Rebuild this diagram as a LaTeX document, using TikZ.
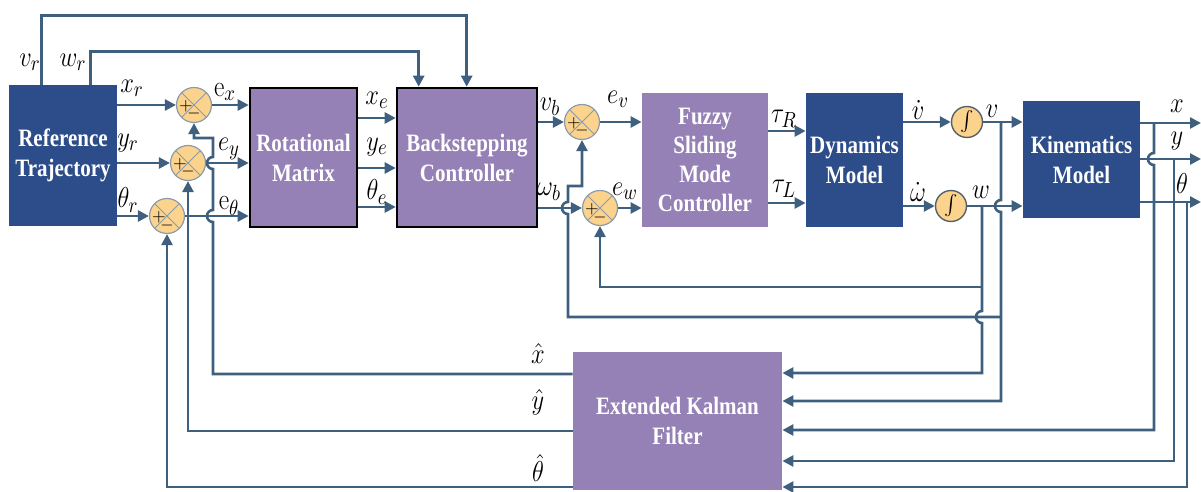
\documentclass[tikz,border=0pt]{standalone}
\usepackage{fontspec}
\newfontfamily\boxfont[FakeStretch=0.84]{Liberation Serif}
\usetikzlibrary{arrows.meta,calc}
\definecolor{wirec}{HTML}{3E5F7D}
\definecolor{dblue}{HTML}{2C4D89}
\definecolor{purp}{HTML}{9581B6}
\definecolor{sumf}{HTML}{FBD38D}
\definecolor{sumb}{HTML}{8C9BAA}
\definecolor{intb}{HTML}{56606A}
\newcommand\lb[1]{\scalebox{0.85}[1]{$#1$}}
\newcommand\sumnode[3]{%
  \node[sumj] (#1) at (#2,#3) {};
  \node[sgn] (#1p) at ($(#1.center)+(-8,1)$) {+};
  \node[sgn] (#1m) at ($(#1.center)+(0,9)$) {$-$};
}
\tikzset{
  wire/.style={draw=wirec, line width=1.3pt},
  arr/.style={wire, -{Triangle[length=5.5pt,width=5.5pt]}},
  box/.style={inner sep=2pt, align=center, text=white, font=\boxfont\bfseries\fontsize{12.5}{15}\selectfont},
  dbox/.style={box, fill=dblue},
  pbox/.style={box, fill=purp, draw=black, line width=1.3pt},
  fbox/.style={box, fill=purp},
  sumj/.style={circle, draw=sumb, fill=sumf, minimum size=17.5pt, inner sep=0pt, line width=0.6pt,
    path picture={\draw[sumb, line width=0.5pt] (path picture bounding box.north west) -- (path picture bounding box.south east)
      (path picture bounding box.north east) -- (path picture bounding box.south west);}},
  sgn/.style={inner sep=0pt, font=\fontsize{8.5}{8.5}\selectfont},
  integ/.style={circle, draw=intb, fill=sumf, minimum size=15.5pt, inner sep=0pt, line width=0.7pt, font=\fontsize{9}{9}\selectfont},
  lbl/.style={inner sep=0pt, font=\fontsize{15}{17}\selectfont},
}
\begin{document}
\begin{tikzpicture}[x=0.5pt,y=-0.5pt]
\useasboundingbox (0,0) rectangle (1201,492);
% blocks
\node[dbox, minimum width=54pt, minimum height=70.5pt] (rt) at (63,155.5) {Reference\\Trajectory};
\node[pbox, minimum width=53.5pt, minimum height=69.5pt] (rm) at (303.5,157.5) {Rotational\\Matrix};
\node[pbox, minimum width=70pt, minimum height=69.5pt] (bc) at (467,157.5) {Backstepping\\Controller};
\node[fbox, minimum width=63pt, minimum height=67pt, font=\boxfont\bfseries\fontsize{12.5}{14.5}\selectfont] (fs) at (705,160) {Fuzzy\\Sliding\\Mode\\Controller};
\node[dbox, minimum width=48.5pt, minimum height=67pt] (dm) at (854.5,160) {Dynamics\\Model};
\node[dbox, minimum width=58.5pt, minimum height=58.5pt] (km) at (1081.5,159.5) {Kinematics\\Model};
\node[fbox, minimum width=104.5pt, minimum height=69pt] (ekf) at (677.5,421) {Extended Kalman\\Filter};
% junctions
\sumnode{sx}{194}{105}
\sumnode{sy}{188}{163}
\sumnode{sth}{167}{216}
\sumnode{sv}{582}{122}
\sumnode{sw}{600}{208}
\node[integ] (i1) at (967,122) {$\int$};
\node[integ] (i2) at (951,206) {$\int$};
% level coordinates
\coordinate (Lxe) at (0,118); \coordinate (Lye) at (0,168); \coordinate (Lthe) at (0,207);
\coordinate (LtR) at (0,131); \coordinate (LtL) at (0,203);
\coordinate (Lx) at (0,123); \coordinate (Ly) at (0,159); \coordinate (Lth) at (0,202);
\coordinate (Lfb1) at (0,287); \coordinate (Lfb2) at (0,317); \coordinate (Ltop) at (0,186);
\coordinate (Le1) at (0,373); \coordinate (Le2) at (0,401); \coordinate (Le3) at (0,430);
\coordinate (Le4) at (0,461); \coordinate (Le5) at (0,487);
\coordinate (Lh1) at (0,374); \coordinate (Lh2) at (0,431); \coordinate (Lh3) at (0,487);
\coordinate (Lup) at (0,138);
\coordinate (Vv) at (1001,0); \coordinate (Vw) at (982,0); \coordinate (Vb) at (568,0);
\coordinate (Cx) at (1154,0); \coordinate (Cy) at (1174,0); \coordinate (Cth) at (1187,0);
\coordinate (Hx) at (213,0);
\coordinate (ox) at (1201,123); \coordinate (oy) at (1201,159); \coordinate (oth) at (1201,202);
% reference velocities
\draw[arr] ($(rt.north west)+(33,0)$) -- ++(0,-69) -| ($(bc.north west)+(71,0)$);
\draw[arr] ($(rt.north west)+(82,0)$) -- ++(0,-33) -| ($(bc.north west)+(23,0)$);
% reference to sums
\draw[arr] (rt.east |- sx) -- (sx);
\draw[arr] (rt.east |- sy) -- (sy);
\draw[arr] (rt.east |- sth) -- (sth);
\draw[arr] (sx) -- (sx -| rm.west);
\draw[arr] (sy) -- (sy -| rm.west);
\draw[arr] (sth) -- (sth -| rm.west);
% rotational to backstepping
\draw[arr] (rm.east |- Lxe) -- (bc.west |- Lxe);
\draw[arr] (rm.east |- Lye) -- (bc.west |- Lye);
\draw[arr] (rm.east |- Lthe) -- (bc.west |- Lthe);
% backstepping to sums
\draw[arr] (bc.east |- sv) -- (sv);
\draw[arr] (bc.east |- sw) -- (sw);
\draw[arr] (sv) -- (sv -| fs.west);
\draw[arr] (sw) -- (sw -| fs.west);
% torques
\draw[arr] (fs.east |- LtR) -- (dm.west |- LtR);
\draw[arr] (fs.east |- LtL) -- (dm.west |- LtL);
\draw[arr] (dm.east |- i1) -- (i1);
\draw[arr] (dm.east |- i2) -- (i2);
\draw[arr] (i1) -- (i1 -| km.west);
\draw[arr] (i2) -- (i2 -| km.west);
% outputs
\draw[arr] (km.east |- Lx) -- (ox);
\draw[arr] (km.east |- Ly) -- (oy);
\draw[arr] (km.east |- Lth) -- (oth);
% v vertical
\draw[arr] (i1 -| Vv) -- ($(i2 -| Vv)+(0,-6)$) arc[start angle=90,end angle=270,radius=3pt] -- (Vv |- Le2) -- (ekf.east |- Le2);
\draw[arr] (Vv |- Lfb2) -- (Vb |- Lfb2) -- ($(Vb |- sw)+(0,6)$) arc[start angle=-90,end angle=-270,radius=3pt] -- (Vb |- Ltop) -- (sv |- Ltop) -- (sv);
% w vertical
\draw[arr] (i2 -| Vw) -- ($(Vw |- Lfb2)+(0,-6)$) arc[start angle=90,end angle=270,radius=3pt] -- (Vw |- Le1) -- (ekf.east |- Le1);
\draw[arr] (Vw |- Lfb1) -- (sw |- Lfb1) -- (sw);
% measured outputs to EKF
\draw[arr] (Cx |- Lx) -- ($(Cx |- Ly)+(0,-6)$) arc[start angle=90,end angle=270,radius=3pt] -- (Cx |- Le3) -- (ekf.east |- Le3);
\draw[arr] (Cy |- Ly) -- (Cy |- Le4) -- (ekf.east |- Le4);
\draw[arr] (Cth |- Lth) -- (Cth |- Le5) -- (ekf.east |- Le5);
% estimates back
\draw[arr] (ekf.west |- Lh1) -- (Hx |- Lh1) -- ($(Hx |- sth)+(0,6)$) arc[start angle=-90,end angle=-270,radius=3pt] -- ($(Hx |- sy)+(0,6)$) arc[start angle=-90,end angle=-270,radius=3pt] -- (Hx |- Lup) -- (sx |- Lup) -- (sx);
\draw[arr] (ekf.west |- Lh2) -- (sy |- Lh2) -- (sy);
\draw[arr] (ekf.west |- Lh3) -- (sth |- Lh3) -- (sth);
% labels
\node[lbl] (tvr) at (30,62) {\lb{v_r}};
\node[lbl] (twr) at (73,62) {\lb{w_r}};
\node[lbl] (txr) at (132,88) {\lb{x_r}};
\node[lbl] (tyr) at (128,143) {\lb{y_r}};
\node[lbl] (tthr) at (128,200) {\lb{\theta_r}};
\node[lbl] (tex) at (225,92) {\lb{\mathrm{e}_x}};
\node[lbl] (tey) at (229,149) {\lb{e_y}};
\node[lbl] (teth) at (229,206) {\lb{\mathrm{e}_\theta}};
\node[lbl] (txe) at (377,100) {\lb{x_e}};
\node[lbl] (tye) at (377,147) {\lb{y_e}};
\node[lbl] (tthe) at (377,192) {\lb{\theta_e}};
\node[lbl] (tvb) at (550,107) {\lb{v_b}};
\node[lbl] (twb) at (549,192) {\lb{\omega_b}};
\node[lbl] (tev) at (618,99) {\lb{e_v}};
\node[lbl] (tew) at (625,191) {\lb{e_w}};
\node[lbl] (ttR) at (784,119) {\lb{\tau_R}};
\node[lbl] (ttL) at (784,189) {\lb{\tau_L}};
\node[lbl] (tvd) at (918,110) {\lb{\dot v}};
\node[lbl] (twd) at (918,192) {\lb{\dot\omega}};
\node[lbl] (tv) at (992,111) {\lb{v}};
\node[lbl] (tw) at (981,192) {\lb{w}};
\node[lbl] (tx) at (1177,106) {\lb{x}};
\node[lbl] (ty) at (1177,141) {\lb{y}};
\node[lbl] (tth) at (1182,184) {\lb{\theta}};
\node[lbl] (txh) at (538,354) {\lb{\hat x}};
\node[lbl] (tyh) at (538,402) {\lb{\hat y}};
\node[lbl] (tthh) at (538,468) {\lb{\hat\theta}};
\end{tikzpicture}
\end{document}
